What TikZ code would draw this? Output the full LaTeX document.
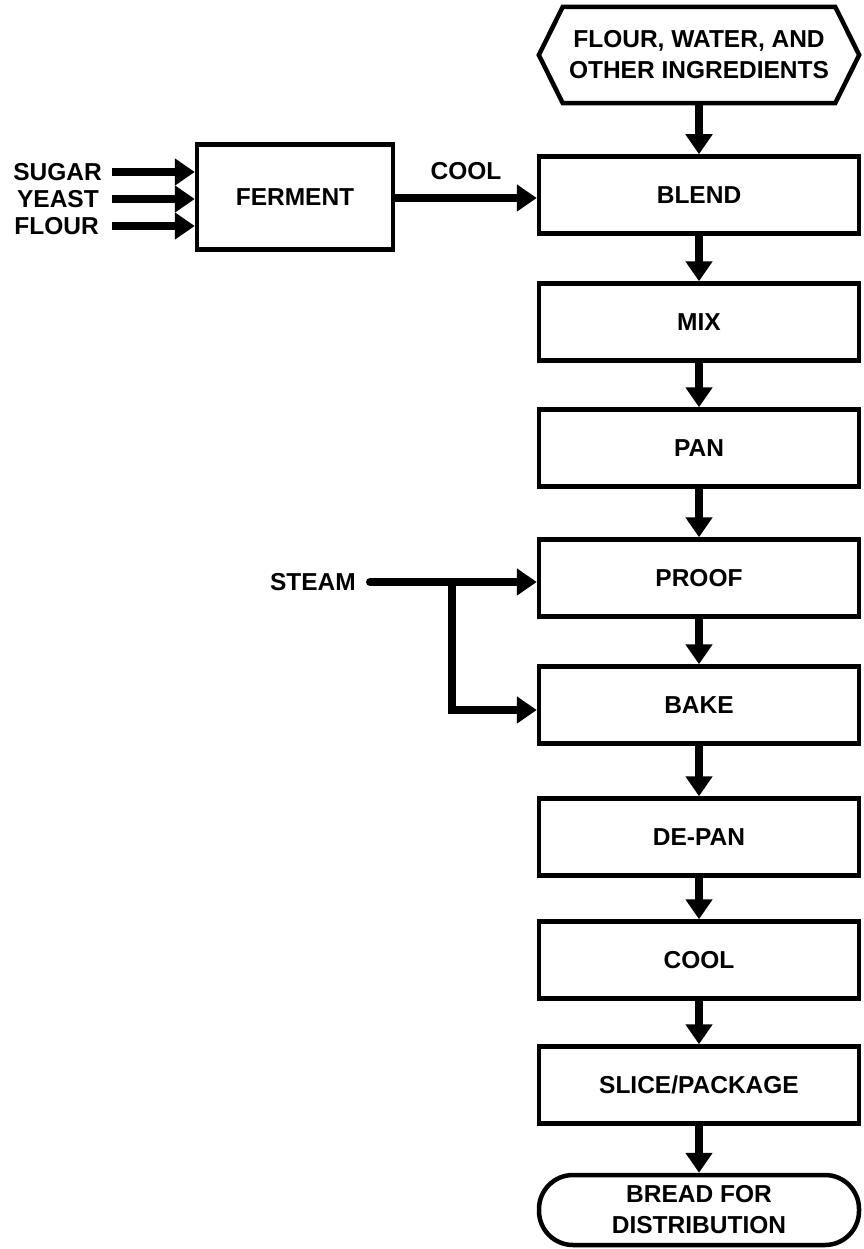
\documentclass[tikz,border=0pt]{standalone}
\usepackage{fontspec}
\setmainfont{Liberation Sans}
\usetikzlibrary{arrows.meta}

\tikzset{
  procbox/.style={draw, line width=4.5pt, minimum width=320pt, minimum height=77pt,
    font=\fontsize{24.5}{31}\selectfont\bfseries, align=center},
  lbl/.style={font=\fontsize{24.5}{31}\selectfont\bfseries, inner sep=0pt},
  flow/.style={line width=8pt, -{Triangle[length=20pt,width=26pt]}},
}

\begin{document}
\begin{tikzpicture}[x=1pt, y=-1pt]
    \useasboundingbox (0,0) rectangle (863,1249);

    % Raw materials
    \node[lbl, align=center, minimum width=320pt, minimum height=96pt] (src) at (699,55)
      {FLOUR, WATER, AND\\OTHER INGREDIENTS};
    \draw[line width=4.5pt, line join=miter] (src.west) -- ([xshift=24pt]src.north west)
      -- ([xshift=-24pt]src.north east) -- (src.east)
      -- ([xshift=-24pt]src.south east) -- ([xshift=24pt]src.south west) -- cycle;

    % Main line
    \node[procbox] (blend) at (699,195) {BLEND};
    \node[procbox] (mix) at (699,322) {MIX};
    \node[procbox] (pan) at (699,448) {PAN};
    \node[procbox] (proof) at (699,578) {PROOF};
    \node[procbox] (bake) at (699,705) {BAKE};
    \node[procbox] (depan) at (699,837) {DE-PAN};
    \node[procbox] (cool) at (699,960) {COOL};
    \node[procbox] (slice) at (699,1085) {SLICE/PACKAGE};
    \node[procbox, minimum height=70pt, rounded corners=34pt] (bread) at (699,1210)
      {BREAD FOR\\DISTRIBUTION};

    \draw[flow] (src) -- (blend);
    \draw[flow] (blend) -- (mix);
    \draw[flow] (mix) -- (pan);
    \draw[flow] (pan) -- (proof);
    \draw[flow] (proof) -- (bake);
    \draw[flow] (bake) -- (depan);
    \draw[flow] (depan) -- (cool);
    \draw[flow] (cool) -- (slice);
    \draw[flow] (slice) -- (bread);

    % Sponge
    \node[procbox, minimum width=196pt, minimum height=105pt] (ferment) at (295,197) {FERMENT};
    \node[lbl, anchor=east] (sugar) at (102,172) {SUGAR};
    \node[lbl, anchor=east] (yeast) at (99,199) {YEAST};
    \node[lbl, anchor=east] (flour) at (99,226) {FLOUR};
    \draw[flow] ([xshift=10pt]sugar.east) -- (sugar.east -| ferment.west);
    \draw[flow] ([xshift=13pt]yeast.east) -- (yeast.east -| ferment.west);
    \draw[flow] ([xshift=13pt]flour.east) -- (flour.east -| ferment.west);
    \draw[flow] (ferment.east |- 0,198) -- (blend.west |- 0,198)
      node[lbl, midway, above=14pt] (cooltxt) {COOL};

    % Steam
    \node[lbl, anchor=east] (steam) at (356,582) {STEAM};
    \coordinate (split) at (452,582);
    \draw[flow, line cap=round] ([xshift=14pt]steam.east) -- (steam.east -| proof.west);
    \draw[flow] (split) |- (bake.west |- 0,710);
\end{tikzpicture}
\end{document}
